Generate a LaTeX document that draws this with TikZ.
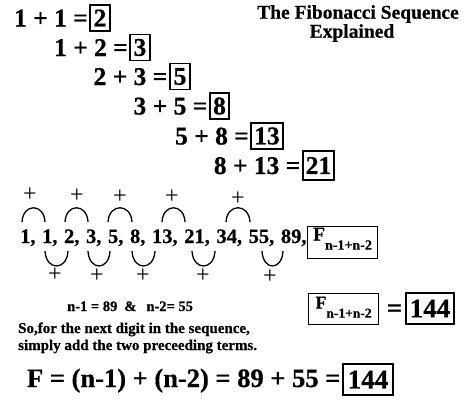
\documentclass[tikz,border=0pt]{standalone}
\usepackage{fontspec}
\setmainfont{Liberation Serif}[BoldFeatures={FakeBold=0.6}]
\newcommand{\fsz}[1]{\fontsize{#1}{#1}\selectfont}
\begin{document}
\begin{tikzpicture}[x=1pt,y=-1pt,
  eq/.style={inner sep=0pt, font=\fsz{25.5}\bfseries, anchor=base east},
  res/.style={draw, line width=1.1pt, inner sep=0pt, minimum height=26pt, font=\fsz{25.5}\bfseries},
  bigres/.style={draw, line width=1.8pt, inner sep=0pt, font=\fsz{27}\bfseries},
  ttl/.style={inner sep=0pt, font=\fsz{19.5}\bfseries},
  seqtxt/.style={inner sep=0pt, font=\fsz{20.5}\bfseries, anchor=base west},
  fbox/.style={draw, line width=1.1pt, inner ysep=0pt, inner xsep=2pt, minimum width=70pt, anchor=north west},
  plus/.style={inner sep=0pt, font=\fsz{24}},
  arcst/.style={line width=1.3pt},
  smalltxt/.style={inner sep=0pt, font=\fsz{15}\bfseries, anchor=base west},
]
\useasboundingbox[fill=white] (0,0) rectangle (469,400);

% staircase of sums
\node[res, minimum width=20pt] (r1) at (100,18) {2};
\node[eq] (e1) at (88,26.5) {1 + 1 =};
\node[res, minimum width=20pt] (r2) at (140,47.5) {3};
\node[eq] (e2) at (128,56) {1 + 2 =};
\node[res, minimum width=20pt] (r3) at (180,76.5) {5};
\node[eq] (e3) at (167.5,85) {2 + 3 =};
\node[res, minimum width=19pt] (r4) at (219.5,106) {8};
\node[eq] (e4) at (207.5,114.5) {3 + 5 =};
\node[res, minimum width=32pt] (r5) at (267,136) {13};
\node[eq] (e5) at (249,144.5) {5 + 8 =};
\node[res, minimum width=31pt, minimum height=29pt] (r6) at (318.5,165.5) {21};
\node[eq] (e6) at (300.5,174) {8 + 13 =};

% title
\node[ttl] (t1) at (358,14) {The Fibonacci Sequence};
\node[ttl] (t2) at (352,33) {Explained};

% sequence
\node[seqtxt] (seq) at (20,243) {\spaceskip=6.6pt 1, 1, 2, 3, 5, 8, 13, 21, 34, 55, 89,};
\node[fbox, text height=14pt, text depth=18pt] (fb1) at (307,226)
  {\fsz{19.5}\bfseries F\raisebox{-9pt}{\fsz{14}n-1+n-2}};

% arcs above
\draw[arcst] (22,222) .. controls (23,203) and (44,203) .. (45,222);
\draw[arcst] (65,222) .. controls (66,203) and (87,203) .. (88,222);
\draw[arcst] (108,222) .. controls (109,203) and (131,203) .. (132,222);
\draw[arcst] (162,222) .. controls (163,203) and (184,203) .. (185,222);
\draw[arcst] (226,222) .. controls (227,203) and (249,203) .. (250,222);
\node[plus] (pa1) at (30,195) {+};
\node[plus] (pa2) at (77,196) {+};
\node[plus] (pa3) at (120,197) {+};
\node[plus] (pa4) at (172,197) {+};
\node[plus] (pa5) at (238,199) {+};

% arcs below
\draw[arcst] (45,251) .. controls (46,271) and (67,271) .. (68,251);
\draw[arcst] (88,251) .. controls (89,271) and (109,271) .. (110,251);
\draw[arcst] (132,251) .. controls (133,271) and (154,271) .. (155,251);
\draw[arcst] (192,251) .. controls (193,271) and (214,271) .. (215,251);
\draw[arcst] (262,251) .. controls (263,271) and (282,271) .. (283,251);
\node[plus] (pb1) at (55,275) {+};
\node[plus] (pb2) at (97,276) {+};
\node[plus] (pb3) at (143,276) {+};
\node[plus] (pb4) at (203,276) {+};
\node[plus] (pb5) at (270,277) {+};

% explanation
\node[smalltxt, font=\fsz{14.5}\bfseries] (nn) at (67,311) {n-1 = 89\hspace{7pt}\&\hspace{10pt}n-2= 55};
\node[smalltxt] (so1) at (18,333) {So,for the next digit in the sequence,};
\node[smalltxt] (so2) at (18,350) {simply add the two preceeding terms.};

\node[fbox, text height=15pt, text depth=16pt] (fb2) at (308,293)
  {\fsz{18}\bfseries F\raisebox{-9pt}{\fsz{13.5}n-1+n-2}};
\node[inner sep=0pt, font=\fsz{27}\bfseries, anchor=base] (eqs) at (394.5,317) {=};
\node[bigres, minimum width=48pt, minimum height=31pt] (b1) at (430,308.5) {144};

% bottom formula
\node[inner sep=0pt, font=\fsz{26.5}\bfseries, anchor=base east] (form) at (340.5,387) {F = (n-1) + (n-2) = 89 + 55 =};
\node[bigres, minimum width=50pt, minimum height=31pt] (b2) at (368,379.5) {144};
\end{tikzpicture}
\end{document}
